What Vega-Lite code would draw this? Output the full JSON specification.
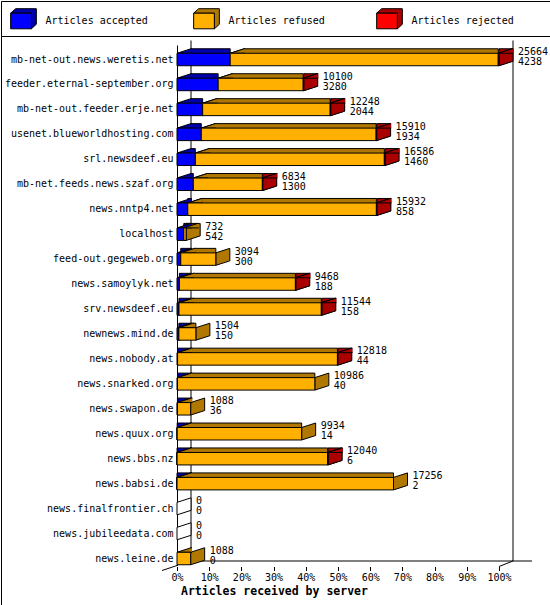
{
  "$schema": "https://vega.github.io/schema/vega-lite/v6.json",
  "padding": 0,
  "spacing": 0,
  "bounds": "flush",
  "config": {
    "font": "DejaVu Sans Mono",
    "view": {"stroke": "black", "strokeWidth": 1}
  },
  "datasets": {
    "articles": [
      {"server": "mb-net-out.news.weretis.net", "accepted": 4238, "refused": 21366, "rejected": 60},
      {"server": "feeder.eternal-september.org", "accepted": 3280, "refused": 6780, "rejected": 40},
      {"server": "mb-net-out.feeder.erje.net", "accepted": 2044, "refused": 10164, "rejected": 40},
      {"server": "usenet.blueworldhosting.com", "accepted": 1934, "refused": 13936, "rejected": 40},
      {"server": "srl.newsdeef.eu", "accepted": 1460, "refused": 15066, "rejected": 60},
      {"server": "mb-net.feeds.news.szaf.org", "accepted": 1300, "refused": 5504, "rejected": 30},
      {"server": "news.nntp4.net", "accepted": 858, "refused": 15034, "rejected": 40},
      {"server": "localhost", "accepted": 542, "refused": 190, "rejected": 0},
      {"server": "feed-out.gegeweb.org", "accepted": 300, "refused": 2794, "rejected": 0},
      {"server": "news.samoylyk.net", "accepted": 188, "refused": 9250, "rejected": 30},
      {"server": "srv.newsdeef.eu", "accepted": 158, "refused": 11346, "rejected": 40},
      {"server": "newnews.mind.de", "accepted": 150, "refused": 1354, "rejected": 0},
      {"server": "news.nobody.at", "accepted": 44, "refused": 12744, "rejected": 30},
      {"server": "news.snarked.org", "accepted": 40, "refused": 10946, "rejected": 0},
      {"server": "news.swapon.de", "accepted": 36, "refused": 1052, "rejected": 0},
      {"server": "news.quux.org", "accepted": 14, "refused": 9920, "rejected": 0},
      {"server": "news.bbs.nz", "accepted": 6, "refused": 12004, "rejected": 30},
      {"server": "news.babsi.de", "accepted": 2, "refused": 17254, "rejected": 0},
      {"server": "news.finalfrontier.ch", "accepted": 0, "refused": 0, "rejected": 0},
      {"server": "news.jubileedata.com", "accepted": 0, "refused": 0, "rejected": 0},
      {"server": "news.leine.de", "accepted": 0, "refused": 1088, "rejected": 0}
    ],
    "legend": [
      {"type": "accepted", "label": "Articles accepted"},
      {"type": "refused", "label": "Articles refused"},
      {"type": "rejected", "label": "Articles rejected"}
    ]
  },
  "vconcat": [
    {
      "width": 549,
      "height": 35,
      "data": {"name": "legend"},
      "encoding": {
        "x": {
          "field": "type",
          "type": "nominal",
          "bandPosition": 0,
          "scale": {"type": "band", "domain": ["accepted", "refused", "rejected"], "range": [0, 549], "paddingInner": 0, "paddingOuter": 0},
          "axis": null
        }
      },
      "layer": [
        {
          "mark": {
            "type": "point",
            "shape": "M-0.796,-0.6L-0.4115,-0.946L1.181,-0.946L1.181,0.254L0.796,0.6L0.796,-0.6Z",
            "size": 676,
            "filled": true,
            "opacity": 1,
            "stroke": "black",
            "strokeWidth": 1,
            "xOffset": 20,
            "yOffset": 2.5
          },
          "encoding": {
            "fill": {
              "field": "type",
              "type": "nominal",
              "scale": {"domain": ["accepted", "refused", "rejected"], "range": ["#0000aa", "#b07800", "#aa0000"]},
              "legend": null
            }
          }
        },
        {
          "mark": {
            "type": "point",
            "shape": "M-0.796,-0.6L0.796,-0.6L0.796,0.6L-0.796,0.6Z",
            "size": 676,
            "filled": true,
            "opacity": 1,
            "stroke": "black",
            "strokeWidth": 1,
            "xOffset": 20,
            "yOffset": 2.5
          },
          "encoding": {
            "color": {
              "field": "type",
              "type": "nominal",
              "scale": {"domain": ["accepted", "refused", "rejected"], "range": ["#0000ff", "#ffb000", "#ff0000"]},
              "legend": null
            }
          }
        },
        {
          "mark": {"type": "text", "align": "left", "baseline": "middle", "dx": 44.5, "dy": 2.7, "fontSize": 10, "font": "DejaVu Sans Mono", "color": "black"},
          "encoding": {"text": {"field": "label"}}
        }
      ]
    },
    {
      "width": 549,
      "height": 569,
      "layer": [
        {
          "data": {"values": [{}]},
          "encoding": {
            "y": {"datum": 0, "type": "quantitative", "scale": {"domain": [0, 1], "range": [4.5, 525], "nice": false, "zero": false}, "axis": null},
            "y2": {"datum": 1}
          },
          "layer": [
            {
              "mark": {"type": "rule", "color": "black", "strokeWidth": 1, "xOffset": 14},
              "encoding": {"x": {"datum": 0, "type": "quantitative", "scale": {"domain": [0, 28254], "range": [176, 530.5], "nice": false, "zero": false}, "axis": {"title": "Articles received by server", "orient": "bottom", "offset": -44.5, "values": [0, 2566.4, 5132.8, 7699.2, 10265.6, 12832, 15398.4, 17964.8, 20531.2, 23097.6, 25664], "labelExpr": "format(datum.value / 25664, '.0%')", "grid": false, "domainColor": "black", "tickColor": "black", "tickSize": 10, "tickDash": [0, 6, 4, 0], "labelPadding": 2, "labelFont": "DejaVu Sans Mono", "labelFontSize": 10, "labelColor": "black", "labelFlush": false, "labelOverlap": false, "titleFont": "DejaVu Sans Mono", "titleFontWeight": "bold", "titleFontSize": 11.5, "titleColor": "black", "titleAnchor": "start", "titleAlign": "left", "titleBaseline": "alphabetic", "titleX": 179.5, "titleY": 33.5}}}
            },
            {
              "mark": {"type": "rule", "color": "black", "strokeWidth": 1, "xOffset": 14},
              "encoding": {"x": {"datum": 25664, "type": "quantitative", "scale": {"domain": [0, 28254], "range": [176, 530.5], "nice": false, "zero": false}, "axis": {"title": "Articles received by server", "orient": "bottom", "offset": -44.5, "values": [0, 2566.4, 5132.8, 7699.2, 10265.6, 12832, 15398.4, 17964.8, 20531.2, 23097.6, 25664], "labelExpr": "format(datum.value / 25664, '.0%')", "grid": false, "domainColor": "black", "tickColor": "black", "tickSize": 10, "tickDash": [0, 6, 4, 0], "labelPadding": 2, "labelFont": "DejaVu Sans Mono", "labelFontSize": 10, "labelColor": "black", "labelFlush": false, "labelOverlap": false, "titleFont": "DejaVu Sans Mono", "titleFontWeight": "bold", "titleFontSize": 11.5, "titleColor": "black", "titleAnchor": "start", "titleAlign": "left", "titleBaseline": "alphabetic", "titleX": 179.5, "titleY": 33.5}}}
            },
            {
              "mark": {"type": "rule", "color": "black", "strokeWidth": 1, "yOffset": 4.5, "x2Offset": -15, "y2Offset": 9.5},
              "encoding": {
                "x": {"datum": 0, "type": "quantitative", "scale": {"domain": [0, 28254], "range": [176, 530.5], "nice": false, "zero": false}, "axis": {"title": "Articles received by server", "orient": "bottom", "offset": -44.5, "values": [0, 2566.4, 5132.8, 7699.2, 10265.6, 12832, 15398.4, 17964.8, 20531.2, 23097.6, 25664], "labelExpr": "format(datum.value / 25664, '.0%')", "grid": false, "domainColor": "black", "tickColor": "black", "tickSize": 10, "tickDash": [0, 6, 4, 0], "labelPadding": 2, "labelFont": "DejaVu Sans Mono", "labelFontSize": 10, "labelColor": "black", "labelFlush": false, "labelOverlap": false, "titleFont": "DejaVu Sans Mono", "titleFontWeight": "bold", "titleFontSize": 11.5, "titleColor": "black", "titleAnchor": "start", "titleAlign": "left", "titleBaseline": "alphabetic", "titleX": 179.5, "titleY": 33.5}},
                "x2": {"datum": 0},
                "y": {"datum": 1, "type": "quantitative", "scale": {"domain": [0, 1], "range": [4.5, 525], "nice": false, "zero": false}, "axis": null},
                "y2": {"datum": 1}
              }
            },
            {
              "mark": {"type": "rule", "color": "black", "strokeWidth": 1, "yOffset": 5.5, "x2Offset": 14},
              "encoding": {
                "x": {"datum": 25664, "type": "quantitative", "scale": {"domain": [0, 28254], "range": [176, 530.5], "nice": false, "zero": false}, "axis": {"title": "Articles received by server", "orient": "bottom", "offset": -44.5, "values": [0, 2566.4, 5132.8, 7699.2, 10265.6, 12832, 15398.4, 17964.8, 20531.2, 23097.6, 25664], "labelExpr": "format(datum.value / 25664, '.0%')", "grid": false, "domainColor": "black", "tickColor": "black", "tickSize": 10, "tickDash": [0, 6, 4, 0], "labelPadding": 2, "labelFont": "DejaVu Sans Mono", "labelFontSize": 10, "labelColor": "black", "labelFlush": false, "labelOverlap": false, "titleFont": "DejaVu Sans Mono", "titleFontWeight": "bold", "titleFontSize": 11.5, "titleColor": "black", "titleAnchor": "start", "titleAlign": "left", "titleBaseline": "alphabetic", "titleX": 179.5, "titleY": 33.5}},
                "x2": {"datum": 25664},
                "y": {"datum": 1, "type": "quantitative", "scale": {"domain": [0, 1], "range": [4.5, 525], "nice": false, "zero": false}, "axis": null},
                "y2": {"datum": 1}
              }
            }
          ]
        },
        {
          "data": {"name": "articles"},
          "transform": [
            {"fold": ["accepted", "refused", "rejected"], "as": ["type", "count"]},
            {"stack": "count", "groupby": ["server"], "sort": [{"field": "type"}], "as": ["x0", "x1"]},
            {"joinaggregate": [{"op": "sum", "field": "count", "as": "total"}], "groupby": ["server"]}
          ],
          "encoding": {
            "y": {
              "field": "server",
              "type": "nominal",
              "sort": null,
              "scale": {
                "domain": [
                  "mb-net-out.news.weretis.net", "feeder.eternal-september.org", "mb-net-out.feeder.erje.net",
                  "usenet.blueworldhosting.com", "srl.newsdeef.eu", "mb-net.feeds.news.szaf.org", "news.nntp4.net",
                  "localhost", "feed-out.gegeweb.org", "news.samoylyk.net", "srv.newsdeef.eu", "newnews.mind.de",
                  "news.nobody.at", "news.snarked.org", "news.swapon.de", "news.quux.org", "news.bbs.nz",
                  "news.babsi.de", "news.finalfrontier.ch", "news.jubileedata.com", "news.leine.de"
                ],
                "range": [9, 529.5],
                "paddingInner": 0.5,
                "paddingOuter": 0.181,
                "align": 0.916
              },
              "axis": {
                "title": null,
                "orient": "left",
                "offset": -176,
                "ticks": false,
                "grid": false,
                "domain": true,
                "domainColor": "black",
                "labelPadding": 4,
                "labelFont": "DejaVu Sans Mono",
                "labelFontSize": 10,
                "labelColor": "black",
                "labelLimit": 300
              }
            }
          },
          "layer": [
            {
              "transform": [{"filter": "datum.total == 0 && datum.type === 'accepted'"}],
              "mark": {
                "type": "point",
                "shape": "M0,-0.4808L1.0769,-0.8269L1.0769,0.1346L0,0.4808Z",
                "size": 676,
                "filled": true,
                "fill": "white",
                "opacity": 1,
                "stroke": "black",
                "strokeWidth": 1
              },
              "encoding": {
                "x": {"field": "total", "type": "quantitative", "scale": {"domain": [0, 28254], "range": [176, 530.5], "nice": false, "zero": false}, "axis": {"title": "Articles received by server", "orient": "bottom", "offset": -44.5, "values": [0, 2566.4, 5132.8, 7699.2, 10265.6, 12832, 15398.4, 17964.8, 20531.2, 23097.6, 25664], "labelExpr": "format(datum.value / 25664, '.0%')", "grid": false, "domainColor": "black", "tickColor": "black", "tickSize": 10, "tickDash": [0, 6, 4, 0], "labelPadding": 2, "labelFont": "DejaVu Sans Mono", "labelFontSize": 10, "labelColor": "black", "labelFlush": false, "labelOverlap": false, "titleFont": "DejaVu Sans Mono", "titleFontWeight": "bold", "titleFontSize": 11.5, "titleColor": "black", "titleAnchor": "start", "titleAlign": "left", "titleBaseline": "alphabetic", "titleX": 179.5, "titleY": 33.5}}
              }
            },
            {
              "transform": [{"filter": "datum.count > 0"}],
              "mark": {"type": "bar", "stroke": "black", "strokeWidth": 1, "xOffset": 14, "yOffset": -4.5},
              "encoding": {
                "x": {"field": "x0", "type": "quantitative", "scale": {"domain": [0, 28254], "range": [176, 530.5], "nice": false, "zero": false}, "axis": {"title": "Articles received by server", "orient": "bottom", "offset": -44.5, "values": [0, 2566.4, 5132.8, 7699.2, 10265.6, 12832, 15398.4, 17964.8, 20531.2, 23097.6, 25664], "labelExpr": "format(datum.value / 25664, '.0%')", "grid": false, "domainColor": "black", "tickColor": "black", "tickSize": 10, "tickDash": [0, 6, 4, 0], "labelPadding": 2, "labelFont": "DejaVu Sans Mono", "labelFontSize": 10, "labelColor": "black", "labelFlush": false, "labelOverlap": false, "titleFont": "DejaVu Sans Mono", "titleFontWeight": "bold", "titleFontSize": 11.5, "titleColor": "black", "titleAnchor": "start", "titleAlign": "left", "titleBaseline": "alphabetic", "titleX": 179.5, "titleY": 33.5}},
                "x2": {"field": "x1"},
                "fill": {"field": "type", "type": "nominal", "scale": {"domain": ["accepted", "refused", "rejected"], "range": ["#0000aa", "#b07800", "#aa0000"]}, "legend": null}
              }
            },
            {
              "transform": [{"filter": "datum.count > 0"}],
              "mark": {
                "type": "point",
                "shape": "M0,-0.4808L1.0769,-0.8269L1.0769,0.1346L0,0.4808Z",
                "size": 676,
                "filled": true,
                "opacity": 1,
                "stroke": "black",
                "strokeWidth": 1
              },
              "encoding": {
                "x": {"field": "x1", "type": "quantitative", "scale": {"domain": [0, 28254], "range": [176, 530.5], "nice": false, "zero": false}, "axis": {"title": "Articles received by server", "orient": "bottom", "offset": -44.5, "values": [0, 2566.4, 5132.8, 7699.2, 10265.6, 12832, 15398.4, 17964.8, 20531.2, 23097.6, 25664], "labelExpr": "format(datum.value / 25664, '.0%')", "grid": false, "domainColor": "black", "tickColor": "black", "tickSize": 10, "tickDash": [0, 6, 4, 0], "labelPadding": 2, "labelFont": "DejaVu Sans Mono", "labelFontSize": 10, "labelColor": "black", "labelFlush": false, "labelOverlap": false, "titleFont": "DejaVu Sans Mono", "titleFontWeight": "bold", "titleFontSize": 11.5, "titleColor": "black", "titleAnchor": "start", "titleAlign": "left", "titleBaseline": "alphabetic", "titleX": 179.5, "titleY": 33.5}},
                "fill": {"field": "type", "type": "nominal", "scale": {"domain": ["accepted", "refused", "rejected"], "range": ["#0000aa", "#b07800", "#aa0000"]}, "legend": null}
              }
            },
            {
              "transform": [{"filter": "datum.count > 0"}],
              "mark": {
                "type": "point",
                "shape": "M1.1538,-0.4808L0,-0.4808L1.0769,-0.8269L1.1538,-0.8269",
                "size": 676,
                "filled": true,
                "opacity": 1,
                "stroke": "black",
                "strokeWidth": 1
              },
              "encoding": {
                "x": {"field": "x0", "type": "quantitative", "scale": {"domain": [0, 28254], "range": [176, 530.5], "nice": false, "zero": false}, "axis": {"title": "Articles received by server", "orient": "bottom", "offset": -44.5, "values": [0, 2566.4, 5132.8, 7699.2, 10265.6, 12832, 15398.4, 17964.8, 20531.2, 23097.6, 25664], "labelExpr": "format(datum.value / 25664, '.0%')", "grid": false, "domainColor": "black", "tickColor": "black", "tickSize": 10, "tickDash": [0, 6, 4, 0], "labelPadding": 2, "labelFont": "DejaVu Sans Mono", "labelFontSize": 10, "labelColor": "black", "labelFlush": false, "labelOverlap": false, "titleFont": "DejaVu Sans Mono", "titleFontWeight": "bold", "titleFontSize": 11.5, "titleColor": "black", "titleAnchor": "start", "titleAlign": "left", "titleBaseline": "alphabetic", "titleX": 179.5, "titleY": 33.5}},
                "fill": {"field": "type", "type": "nominal", "scale": {"domain": ["accepted", "refused", "rejected"], "range": ["#0000aa", "#b07800", "#aa0000"]}, "legend": null}
              }
            },
            {
              "transform": [{"filter": "datum.count > 0"}],
              "mark": {"type": "bar", "stroke": "black", "strokeWidth": 1},
              "encoding": {
                "x": {"field": "x0", "type": "quantitative", "scale": {"domain": [0, 28254], "range": [176, 530.5], "nice": false, "zero": false}, "axis": {"title": "Articles received by server", "orient": "bottom", "offset": -44.5, "values": [0, 2566.4, 5132.8, 7699.2, 10265.6, 12832, 15398.4, 17964.8, 20531.2, 23097.6, 25664], "labelExpr": "format(datum.value / 25664, '.0%')", "grid": false, "domainColor": "black", "tickColor": "black", "tickSize": 10, "tickDash": [0, 6, 4, 0], "labelPadding": 2, "labelFont": "DejaVu Sans Mono", "labelFontSize": 10, "labelColor": "black", "labelFlush": false, "labelOverlap": false, "titleFont": "DejaVu Sans Mono", "titleFontWeight": "bold", "titleFontSize": 11.5, "titleColor": "black", "titleAnchor": "start", "titleAlign": "left", "titleBaseline": "alphabetic", "titleX": 179.5, "titleY": 33.5}},
                "x2": {"field": "x1"},
                "color": {"field": "type", "type": "nominal", "scale": {"domain": ["accepted", "refused", "rejected"], "range": ["#0000ff", "#ffb000", "#ff0000"]}, "legend": null}
              }
            },
            {
              "transform": [{"filter": "datum.type === 'accepted'"}],
              "mark": {"type": "text", "align": "left", "baseline": "middle", "dx": 19, "dy": -7.5, "fontSize": 10, "font": "DejaVu Sans Mono", "color": "black"},
              "encoding": {
                "x": {"field": "total", "type": "quantitative", "scale": {"domain": [0, 28254], "range": [176, 530.5], "nice": false, "zero": false}, "axis": {"title": "Articles received by server", "orient": "bottom", "offset": -44.5, "values": [0, 2566.4, 5132.8, 7699.2, 10265.6, 12832, 15398.4, 17964.8, 20531.2, 23097.6, 25664], "labelExpr": "format(datum.value / 25664, '.0%')", "grid": false, "domainColor": "black", "tickColor": "black", "tickSize": 10, "tickDash": [0, 6, 4, 0], "labelPadding": 2, "labelFont": "DejaVu Sans Mono", "labelFontSize": 10, "labelColor": "black", "labelFlush": false, "labelOverlap": false, "titleFont": "DejaVu Sans Mono", "titleFontWeight": "bold", "titleFontSize": 11.5, "titleColor": "black", "titleAnchor": "start", "titleAlign": "left", "titleBaseline": "alphabetic", "titleX": 179.5, "titleY": 33.5}},
                "text": {"field": "total", "type": "quantitative"}
              }
            },
            {
              "transform": [{"filter": "datum.type === 'accepted'"}],
              "mark": {"type": "text", "align": "left", "baseline": "middle", "dx": 19, "dy": 2.5, "fontSize": 10, "font": "DejaVu Sans Mono", "color": "black"},
              "encoding": {
                "x": {"field": "total", "type": "quantitative", "scale": {"domain": [0, 28254], "range": [176, 530.5], "nice": false, "zero": false}, "axis": {"title": "Articles received by server", "orient": "bottom", "offset": -44.5, "values": [0, 2566.4, 5132.8, 7699.2, 10265.6, 12832, 15398.4, 17964.8, 20531.2, 23097.6, 25664], "labelExpr": "format(datum.value / 25664, '.0%')", "grid": false, "domainColor": "black", "tickColor": "black", "tickSize": 10, "tickDash": [0, 6, 4, 0], "labelPadding": 2, "labelFont": "DejaVu Sans Mono", "labelFontSize": 10, "labelColor": "black", "labelFlush": false, "labelOverlap": false, "titleFont": "DejaVu Sans Mono", "titleFontWeight": "bold", "titleFontSize": 11.5, "titleColor": "black", "titleAnchor": "start", "titleAlign": "left", "titleBaseline": "alphabetic", "titleX": 179.5, "titleY": 33.5}},
                "text": {"field": "count", "type": "quantitative"}
              }
            }
          ]
        }
      ],
      "resolve": {"scale": {"y": "independent"}}
    }
  ]
}
